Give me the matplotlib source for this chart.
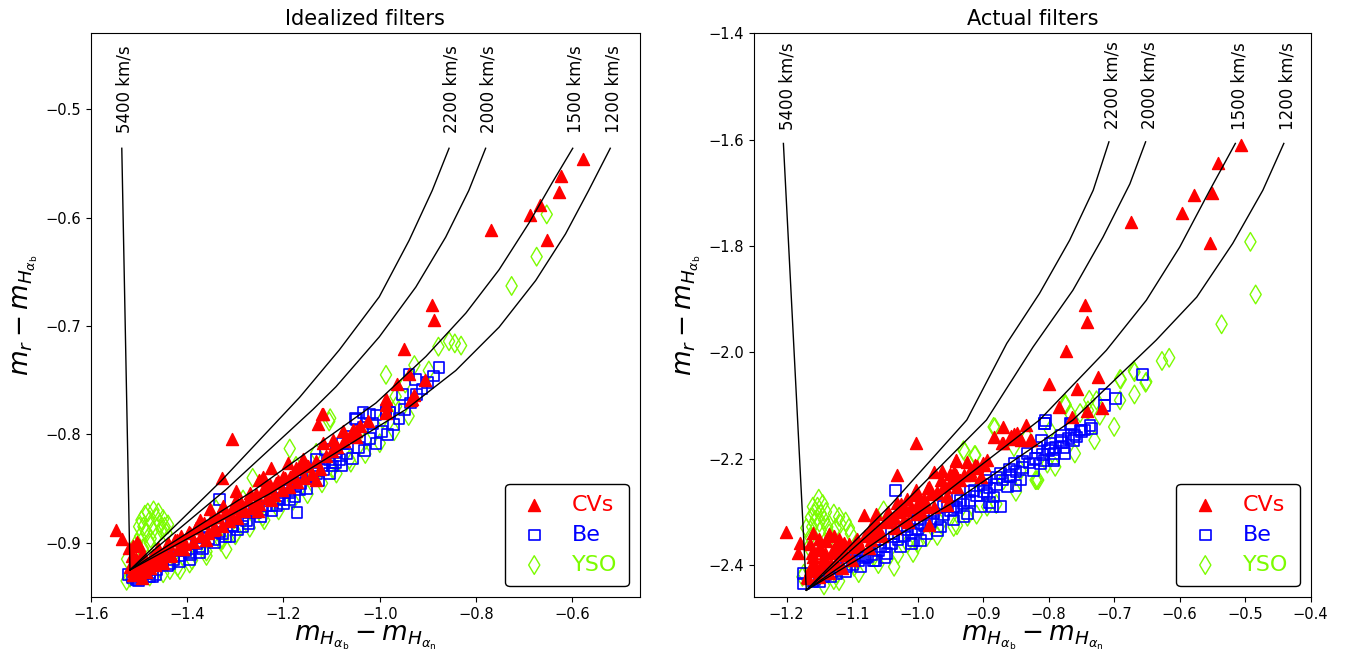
import numpy as np
import matplotlib.pyplot as plt

# ---------------- Idealized filters (left) ----------------
cv_ideal = [
    (-0.578, -0.546), (-0.623, -0.562), (-0.627, -0.576), (-0.667, -0.588), (-0.688, -0.598),
    (-0.768, -0.611), (-0.652, -0.621), (-0.891, -0.681), (-0.887, -0.694), (-0.950, -0.721),
    (-0.939, -0.744), (-0.965, -0.753), (-0.907, -0.750), (-0.986, -0.767), (-0.928, -0.764),
    (-0.933, -0.767), (-1.119, -0.781), (-0.986, -0.779),
    (-1.308, -0.804), (-1.118, -0.781), (-1.129, -0.790), (-1.328, -0.840), (-1.299, -0.852),
    (-1.548, -0.888), (-1.536, -0.896), (-1.512, -0.903), (-1.505, -0.899), (-1.132, -0.842),
    (-1.225, -0.831), (-1.190, -0.826), (-1.160, -0.823), (-1.251, -0.842), (-1.225, -0.860),
    (-1.253, -0.871), (-1.284, -0.869), (-1.312, -0.872), (-1.353, -0.869), (-1.346, -0.888),
    (-1.381, -0.886), (-1.409, -0.906), (-1.436, -0.912), (-1.450, -0.919), (-1.485, -0.919),
    (-1.498, -0.922), (-1.512, -0.926), (-1.505, -0.928), (-1.478, -0.923), (-1.215, -0.845),
    (-1.187, -0.839), (-1.174, -0.831), (-1.118, -0.808), (-1.077, -0.797), (-1.056, -0.796),
    (-1.049, -0.802), (-0.987, -0.780), (-0.987, -0.773), (-0.935, -0.768), (-1.298, -0.860),
    (-1.326, -0.866), (-1.374, -0.879), (-1.395, -0.891), (-1.422, -0.897), (-1.464, -0.909),
    (-1.270, -0.854), (-1.236, -0.849), (-1.201, -0.839), (-1.243, -0.839), (-1.346, -0.876),
    (-1.440, -0.900), (-1.491, -0.912), (-1.519, -0.922), (-1.257, -0.863), (-1.153, -0.828),
    (-1.098, -0.805), (-1.360, -0.897),
]
cv_ideal_band = [
    (-1.503, -0.918), (-1.497, -0.926), (-1.490, -0.913), (-1.486, -0.921), (-1.478, -0.916),
    (-1.472, -0.911), (-1.468, -0.920), (-1.461, -0.905), (-1.455, -0.914), (-1.447, -0.909),
    (-1.441, -0.901), (-1.433, -0.911), (-1.426, -0.897), (-1.419, -0.906), (-1.412, -0.894),
    (-1.404, -0.901), (-1.396, -0.890), (-1.389, -0.899), (-1.381, -0.886), (-1.372, -0.894),
    (-1.366, -0.882), (-1.357, -0.891), (-1.351, -0.879), (-1.343, -0.887), (-1.336, -0.876),
    (-1.328, -0.884), (-1.321, -0.872), (-1.313, -0.880), (-1.305, -0.868), (-1.297, -0.877),
    (-1.289, -0.863), (-1.282, -0.871), (-1.274, -0.860), (-1.266, -0.868), (-1.258, -0.855),
    (-1.250, -0.864), (-1.243, -0.851), (-1.235, -0.859), (-1.227, -0.847), (-1.219, -0.856),
    (-1.211, -0.843), (-1.203, -0.851), (-1.196, -0.840), (-1.188, -0.848), (-1.180, -0.836),
    (-1.172, -0.844), (-1.165, -0.832), (-1.157, -0.840), (-1.149, -0.829), (-1.141, -0.836),
    (-1.133, -0.824), (-1.125, -0.832), (-1.112, -0.820), (-1.100, -0.815), (-1.088, -0.812),
    (-1.075, -0.806), (-1.062, -0.801), (-1.050, -0.797), (-1.040, -0.792), (-1.025, -0.788),
    (-1.512, -0.930), (-1.508, -0.924), (-1.500, -0.929), (-1.494, -0.932), (-1.485, -0.927),
    (-1.506, -0.915), (-1.515, -0.912), (-1.495, -0.910), (-1.520, -0.905), (-1.500, -0.902),
]
be_ideal = [
    (-0.877, -0.738), (-0.939, -0.745), (-0.925, -0.749), (-0.953, -0.763), (-0.987, -0.778),
    (-0.980, -0.780), (-1.022, -0.781), (-1.050, -0.785),
    (-1.523, -0.929), (-1.505, -0.934), (-1.471, -0.931), (-1.333, -0.860), (-1.172, -0.872),
    (-0.987, -0.780), (-1.015, -0.790), (-1.049, -0.786), (-1.035, -0.780), (-0.980, -0.780),
    (-1.008, -0.782), (-1.084, -0.823), (-1.098, -0.829), (-1.118, -0.829), (-1.132, -0.823),
    (-1.112, -0.814), (-1.077, -0.808), (-1.063, -0.802), (-1.035, -0.793), (-1.153, -0.839),
    (-1.174, -0.848), (-1.187, -0.854), (-1.208, -0.860), (-1.229, -0.866), (-1.257, -0.872),
    (-1.277, -0.879), (-1.305, -0.885), (-1.326, -0.891), (-1.346, -0.897), (-1.374, -0.903),
    (-1.395, -0.909), (-1.415, -0.912), (-1.436, -0.919), (-1.464, -0.925), (-1.485, -0.928),
    (-1.498, -0.929), (-1.360, -0.885), (-1.312, -0.894), (-1.284, -0.885), (-1.243, -0.869),
    (-1.215, -0.866), (-1.187, -0.860), (-1.167, -0.851), (-1.132, -0.836), (-1.105, -0.823),
    (-1.091, -0.817), (-1.395, -0.915), (-1.429, -0.915), (-1.374, -0.909), (-1.478, -0.931),
]
be_ideal_band = [
    (-1.515, -0.932), (-1.502, -0.935), (-1.490, -0.928), (-1.478, -0.927), (-1.465, -0.929),
    (-1.452, -0.920), (-1.440, -0.921), (-1.428, -0.913), (-1.416, -0.917), (-1.404, -0.907),
    (-1.392, -0.911), (-1.380, -0.901), (-1.368, -0.905), (-1.356, -0.896), (-1.344, -0.900),
    (-1.332, -0.890), (-1.320, -0.894), (-1.308, -0.884), (-1.296, -0.888), (-1.284, -0.878),
    (-1.272, -0.882), (-1.260, -0.871), (-1.248, -0.876), (-1.236, -0.866), (-1.224, -0.870),
    (-1.212, -0.859), (-1.200, -0.864), (-1.188, -0.852), (-1.176, -0.857), (-1.164, -0.845),
    (-1.152, -0.850), (-1.140, -0.839), (-1.128, -0.843), (-1.116, -0.832), (-1.104, -0.836),
    (-1.092, -0.826), (-1.080, -0.829), (-1.068, -0.818), (-1.056, -0.822), (-1.044, -0.812),
    (-1.032, -0.815), (-1.020, -0.804), (-1.008, -0.808), (-0.996, -0.797), (-0.984, -0.800),
    (-0.972, -0.791), (-0.960, -0.785), (-0.948, -0.777), (-0.936, -0.771), (-0.924, -0.763),
    (-0.912, -0.758), (-0.900, -0.752), (-0.888, -0.746),
]
yso_ideal = [
    (-0.653, -0.597), (-0.674, -0.636), (-0.726, -0.663), (-0.878, -0.719), (-0.856, -0.714),
    (-0.844, -0.716), (-0.831, -0.718), (-0.987, -0.745), (-0.928, -0.736), (-0.898, -0.741),
    (-0.947, -0.753), (-0.967, -0.765), (-1.103, -0.785),
    (-1.488, -0.874), (-1.478, -0.879), (-1.491, -0.885), (-1.464, -0.877), (-1.457, -0.882),
    (-1.447, -0.885), (-1.471, -0.888), (-1.485, -0.891), (-1.498, -0.894), (-1.464, -0.894),
    (-1.443, -0.891), (-1.505, -0.900), (-1.478, -0.900), (-1.495, -0.879), (-1.453, -0.888),
    (-1.187, -0.813), (-1.105, -0.788), (-1.264, -0.840), (-1.098, -0.832), (-1.153, -0.832),
    (-1.132, -0.817), (-1.063, -0.823), (-1.243, -0.876), (-1.298, -0.891), (-1.326, -0.897),
    (-1.360, -0.912), (-1.395, -0.919), (-1.436, -0.925), (-1.478, -0.931), (-1.519, -0.932),
    (-1.526, -0.935), (-1.340, -0.869), (-1.174, -0.829), (-1.215, -0.854), (-1.029, -0.805),
    (-0.994, -0.786), (-0.966, -0.774), (-1.284, -0.860), (-1.319, -0.906), (-1.415, -0.925),
]
yso_ideal_band = [
    (-1.450, -0.928), (-1.420, -0.922), (-1.390, -0.916), (-1.360, -0.908), (-1.330, -0.899),
    (-1.300, -0.893), (-1.270, -0.886), (-1.240, -0.879), (-1.210, -0.870), (-1.180, -0.861),
    (-1.150, -0.855), (-1.120, -0.845), (-1.090, -0.836), (-1.060, -0.826), (-1.030, -0.818),
    (-1.000, -0.808), (-0.970, -0.797), (-0.940, -0.783),
    (-1.500, -0.885), (-1.482, -0.872), (-1.470, -0.870), (-1.460, -0.872), (-1.450, -0.878),
    (-1.440, -0.883), (-1.476, -0.896), (-1.492, -0.905), (-1.510, -0.908), (-1.525, -0.915),
]
curves_ideal = {
    '5400 km/s': [(-1.536, -0.536), (-1.519, -0.925)],
    '2200 km/s': [(-0.856, -0.536), (-0.891, -0.575), (-0.939, -0.621), (-1.001, -0.673),
                  (-1.084, -0.722), (-1.167, -0.766), (-1.330, -0.843), (-1.519, -0.925)],
    '2000 km/s': [(-0.780, -0.536), (-0.815, -0.575), (-0.863, -0.618), (-0.925, -0.664),
                  (-1.001, -0.710), (-1.091, -0.756), (-1.139, -0.777), (-1.320, -0.851),
                  (-1.519, -0.925)],
    '1500 km/s': [(-0.599, -0.536), (-0.642, -0.568), (-0.690, -0.605), (-0.752, -0.648),
                  (-0.821, -0.688), (-0.904, -0.728), (-1.008, -0.771), (-1.260, -0.851),
                  (-1.519, -0.925)],
    '1200 km/s': [(-0.521, -0.536), (-0.566, -0.575), (-0.614, -0.615), (-0.676, -0.658),
                  (-0.752, -0.701), (-0.842, -0.741), (-0.946, -0.777), (-1.230, -0.855),
                  (-1.519, -0.925)],
}

# ---------------- Actual filters (right) ----------------
cv_actual = [
    (-0.507, -1.609), (-0.542, -1.644), (-0.578, -1.703), (-0.550, -1.700), (-0.597, -1.738),
    (-0.675, -1.755), (-0.553, -1.794), (-0.745, -1.911), (-0.741, -1.943), (-0.773, -1.998),
    (-0.799, -2.060), (-0.757, -2.068), (-0.725, -2.046), (-0.784, -2.102), (-0.741, -2.110),
    (-0.719, -2.104), (-0.765, -2.121),
    (-1.002, -2.170), (-1.031, -2.230), (-1.201, -2.338), (-1.180, -2.358), (-1.183, -2.377),
    (-0.884, -2.159), (-0.870, -2.141), (-0.853, -2.154), (-0.871, -2.170), (-0.835, -2.137),
    (-0.828, -2.165), (-0.843, -2.165), (-0.858, -2.162), (-0.942, -2.203), (-0.924, -2.206),
    (-0.912, -2.212), (-0.899, -2.212), (-0.963, -2.222), (-0.975, -2.225), (-0.950, -2.228),
    (-0.935, -2.240), (-0.919, -2.231), (-0.958, -2.253), (-0.983, -2.253), (-1.003, -2.259),
    (-1.016, -2.275), (-0.996, -2.278), (-1.031, -2.284), (-1.019, -2.294), (-1.001, -2.303),
    (-0.955, -2.287), (-0.983, -2.325), (-1.064, -2.303), (-1.082, -2.306), (-1.072, -2.328),
    (-1.057, -2.341), (-1.036, -2.309), (-1.092, -2.350), (-1.113, -2.359), (-1.136, -2.341),
    (-1.151, -2.350), (-1.125, -2.366), (-1.148, -2.372), (-1.161, -2.378), (-1.143, -2.384),
    (-1.128, -2.378), (-1.158, -2.397), (-1.148, -2.403), (-1.133, -2.397), (-1.113, -2.378),
    (-1.097, -2.366), (-1.164, -2.409), (-1.151, -2.422), (-1.169, -2.422), (-1.072, -2.353),
    (-1.047, -2.315), (-1.021, -2.315), (-0.986, -2.290), (-0.970, -2.265), (-0.940, -2.253),
    (-0.894, -2.203), (-0.904, -2.234), (-0.870, -2.170), (-0.857, -2.158), (-0.849, -2.151),
    (-0.827, -2.164), (-0.941, -2.204), (-0.910, -2.214), (-0.941, -2.231),
]
cv_actual_band = [
    (-1.165, -2.360), (-1.160, -2.385), (-1.155, -2.410), (-1.150, -2.368), (-1.145, -2.393),
    (-1.140, -2.355), (-1.135, -2.415), (-1.130, -2.372), (-1.125, -2.395), (-1.120, -2.350),
    (-1.115, -2.405), (-1.110, -2.380), (-1.105, -2.360), (-1.100, -2.390), (-1.168, -2.425),
    (-1.162, -2.400), (-1.142, -2.378), (-1.128, -2.345), (-1.118, -2.368), (-1.152, -2.420),
    (-1.160, -2.340),
    (-1.090, -2.360), (-1.080, -2.345), (-1.070, -2.340), (-1.060, -2.330), (-1.050, -2.318),
    (-1.040, -2.312), (-1.030, -2.300), (-1.020, -2.296), (-1.010, -2.290), (-1.000, -2.284),
    (-0.990, -2.276), (-0.980, -2.266), (-0.970, -2.262), (-0.960, -2.252), (-0.950, -2.246),
    (-0.940, -2.236), (-0.930, -2.230), (-0.920, -2.222), (-0.910, -2.218), (-0.900, -2.208),
    (-1.065, -2.315), (-1.045, -2.300), (-1.025, -2.285), (-1.005, -2.268), (-0.985, -2.255),
    (-0.965, -2.240), (-0.945, -2.225), (-1.075, -2.368), (-1.055, -2.345), (-1.035, -2.330),
    (-1.015, -2.318), (-0.995, -2.300), (-0.975, -2.290), (-0.955, -2.270),
]
be_actual = [
    (-0.657, -2.042), (-0.715, -2.079), (-0.698, -2.086), (-0.715, -2.100), (-0.805, -2.128),
    (-1.174, -2.416), (-1.174, -2.435), (-1.158, -2.428), (-1.133, -2.422), (-1.108, -2.403),
    (-1.087, -2.403), (-1.067, -2.391), (-1.047, -2.378), (-1.026, -2.366), (-1.006, -2.353),
    (-0.986, -2.341), (-0.965, -2.328), (-0.945, -2.315), (-0.924, -2.303), (-0.904, -2.290),
    (-0.886, -2.290), (-0.884, -2.272), (-0.863, -2.253), (-0.843, -2.240), (-0.823, -2.222),
    (-0.807, -2.203), (-0.792, -2.190), (-0.777, -2.178), (-0.762, -2.165), (-0.752, -2.146),
    (-0.806, -2.134), (-0.767, -2.134), (-1.034, -2.259), (-1.097, -2.391), (-1.077, -2.384),
    (-1.057, -2.366), (-1.036, -2.347), (-1.016, -2.334), (-0.996, -2.322), (-0.975, -2.303),
    (-0.955, -2.290), (-0.935, -2.278), (-0.914, -2.259), (-0.894, -2.240), (-0.874, -2.228),
    (-0.853, -2.209), (-0.833, -2.190), (-0.818, -2.178), (-0.797, -2.171), (-0.782, -2.165),
    (-1.064, -2.391), (-1.123, -2.416), (-1.143, -2.422), (-0.996, -2.353), (-0.945, -2.290),
    (-0.894, -2.265), (-0.858, -2.234), (-0.813, -2.209), (-0.792, -2.203), (-0.874, -2.290),
    (-0.806, -2.133), (-0.765, -2.135), (-0.737, -2.137), (-0.735, -2.143), (-0.745, -2.146),
    (-0.758, -2.159), (-0.781, -2.156), (-0.775, -2.190), (-0.793, -2.200), (-0.811, -2.165),
    (-0.798, -2.181),
]
be_actual_band = [
    (-1.160, -2.430), (-1.150, -2.430), (-1.140, -2.418), (-1.130, -2.412), (-1.120, -2.406),
    (-1.110, -2.412), (-1.100, -2.398), (-1.090, -2.392), (-1.080, -2.386), (-1.070, -2.380),
    (-1.060, -2.372), (-1.050, -2.365), (-1.040, -2.360), (-1.030, -2.352), (-1.020, -2.345),
    (-1.010, -2.338), (-1.000, -2.332), (-0.990, -2.326), (-0.980, -2.318), (-0.970, -2.312),
    (-0.960, -2.305), (-0.950, -2.298), (-0.940, -2.292), (-0.930, -2.285), (-0.920, -2.278),
    (-0.910, -2.270), (-0.900, -2.262), (-0.890, -2.255), (-0.880, -2.248), (-0.870, -2.240),
    (-0.860, -2.232), (-0.850, -2.224), (-0.840, -2.216), (-0.830, -2.208), (-0.820, -2.200),
    (-0.810, -2.192), (-0.800, -2.185), (-0.790, -2.178), (-0.780, -2.170), (-0.770, -2.162),
    (-0.760, -2.155), (-0.750, -2.148), (-1.100, -2.375), (-1.080, -2.365), (-1.060, -2.352),
    (-1.040, -2.340), (-1.020, -2.328), (-1.000, -2.315), (-0.980, -2.302), (-0.960, -2.290),
    (-0.940, -2.275), (-0.920, -2.262), (-0.900, -2.248), (-0.880, -2.235), (-0.860, -2.220),
    (-0.840, -2.205), (-1.050, -2.385), (-1.010, -2.360), (-0.970, -2.335), (-0.930, -2.308),
    (-0.890, -2.282), (-0.850, -2.250),
]
yso_actual = [
    (-0.492, -1.792), (-0.484, -1.891), (-0.536, -1.947), (-0.627, -2.016), (-0.616, -2.010),
    (-0.670, -2.034), (-0.691, -2.050), (-0.652, -2.057), (-0.669, -2.079), (-0.691, -2.090),
    (-0.738, -2.089), (-0.775, -2.098), (-0.752, -2.114), (-0.722, -2.119),
    (-1.151, -2.275), (-1.153, -2.290), (-1.158, -2.303), (-1.148, -2.303), (-1.156, -2.315),
    (-1.143, -2.315), (-1.161, -2.328), (-1.148, -2.334), (-1.138, -2.328), (-1.128, -2.303),
    (-1.120, -2.309), (-1.118, -2.322), (-1.133, -2.347), (-1.164, -2.347), (-1.166, -2.366),
    (-1.174, -2.416), (-1.176, -2.422), (-1.143, -2.438), (-1.128, -2.428), (-1.102, -2.341),
    (-1.052, -2.297), (-1.036, -2.403), (-1.007, -2.377), (-0.930, -2.184), (-0.912, -2.193),
    (-0.884, -2.140), (-0.818, -2.240), (-0.802, -2.209), (-0.774, -2.099), (-0.767, -2.115),
    (-0.965, -2.322), (-0.945, -2.328), (-0.924, -2.309), (-0.894, -2.290), (-0.869, -2.240),
    (-0.843, -2.222), (-0.986, -2.347), (-1.016, -2.359), (-1.067, -2.384), (-1.097, -2.403),
    (-1.123, -2.416), (-0.904, -2.247), (-0.853, -2.178), (-0.833, -2.159),
    (-0.669, -2.037), (-0.651, -2.055), (-0.690, -2.051), (-0.727, -2.090), (-0.740, -2.109),
    (-0.775, -2.096), (-0.882, -2.141), (-0.928, -2.187), (-0.913, -2.193), (-0.816, -2.240),
    (-0.798, -2.146),
]
yso_actual_band = [
    (-1.120, -2.430), (-1.090, -2.415), (-1.060, -2.398), (-1.030, -2.380), (-1.000, -2.360),
    (-0.970, -2.345), (-0.940, -2.325), (-0.910, -2.305), (-0.880, -2.285), (-0.850, -2.262),
    (-0.820, -2.240), (-0.790, -2.215), (-0.760, -2.190), (-0.730, -2.165), (-0.700, -2.140),
    (-1.160, -2.290), (-1.145, -2.285), (-1.140, -2.300), (-1.150, -2.320), (-1.135, -2.340),
    (-1.125, -2.330), (-1.110, -2.318), (-1.105, -2.330), (-1.163, -2.310), (-1.170, -2.330),
]
curves_actual = {
    '5400 km/s': [(-1.205, -1.607), (-1.170, -2.447)],
    '2200 km/s': [(-0.708, -1.604), (-0.732, -1.695), (-0.768, -1.789), (-0.814, -1.889),
                  (-0.864, -1.983), (-0.925, -2.127), (-1.040, -2.285), (-1.170, -2.447)],
    '2000 km/s': [(-0.652, -1.604), (-0.676, -1.683), (-0.717, -1.783), (-0.763, -1.883),
                  (-0.824, -1.990), (-0.895, -2.127), (-1.020, -2.282), (-1.170, -2.447)],
    '1500 km/s': [(-0.515, -1.607), (-0.554, -1.695), (-0.600, -1.802), (-0.651, -1.902),
                  (-0.712, -1.996), (-0.814, -2.127), (-0.980, -2.285), (-1.170, -2.447)],
    '1200 km/s': [(-0.441, -1.607), (-0.473, -1.695), (-0.519, -1.795), (-0.574, -1.896),
                  (-0.636, -1.977), (-0.763, -2.127), (-0.950, -2.285), (-1.170, -2.447)],
}

fig = plt.figure(figsize=(13.48, 6.54), dpi=100)
ax1 = fig.add_axes([0.0675, 0.087, 0.407, 0.862])
ax2 = fig.add_axes([0.5593, 0.087, 0.413, 0.862])

xlab = r'$m_{H_{\alpha_{\rm b}}} - m_{H_{\alpha_{\rm n}}}$'
ylab = r'$m_r - m_{H_{\alpha_{\rm b}}}$'


def draw(ax, cv, be, yso, curves, title, xlim, ylim, label_off):
    yso = np.array(yso)
    be = np.array(be)
    cv = np.array(cv)
    h_yso = ax.scatter(yso[:, 0], yso[:, 1], marker='d', s=90, facecolors='none',
                       edgecolors='#7CFC00', linewidths=1.0, zorder=2)
    h_be = ax.scatter(be[:, 0], be[:, 1], marker='s', s=60, facecolors='none',
                      edgecolors='blue', linewidths=1.2, zorder=3)
    h_cv = ax.scatter(cv[:, 0], cv[:, 1], marker='^', s=75, color='red', zorder=4)
    for name, pts in curves.items():
        pts = np.array(pts)
        ax.plot(pts[:, 0], pts[:, 1], color='black', lw=1.0, zorder=5)
        ax.text(pts[0, 0] + 0.006, pts[0, 1] + label_off, name, rotation=90,
                ha='center', va='bottom', fontsize=12)
    ax.set_xlim(*xlim)
    ax.set_ylim(*ylim)
    ax.set_title(title, fontsize=15)
    ax.set_xlabel(xlab, fontsize=19, labelpad=1)
    ax.set_ylabel(ylab, fontsize=19)
    ax.tick_params(labelsize=10.5)
    leg = ax.legend([h_cv, h_be, h_yso], ['CVs', 'Be', 'YSO'], loc='lower right',
                    fontsize=16, handlelength=1.6, handletextpad=0.9, borderpad=0.5,
                    labelspacing=0.45, framealpha=1)
    leg.get_frame().set_edgecolor('black')
    for t, c in zip(leg.get_texts(), ['red', 'blue', '#7CFC00']):
        t.set_color(c)


draw(ax1, cv_ideal + cv_ideal_band, be_ideal + be_ideal_band, yso_ideal + yso_ideal_band,
     curves_ideal, 'Idealized filters', (-1.6, -0.46), (-0.95, -0.43), 0.014)
draw(ax2, cv_actual + cv_actual_band, be_actual + be_actual_band, yso_actual + yso_actual_band,
     curves_actual, 'Actual filters', (-1.25, -0.4), (-2.46, -1.4), 0.025)
ax1.set_xticks([-1.6, -1.4, -1.2, -1.0, -0.8, -0.6])
ax1.set_yticks([-0.9, -0.8, -0.7, -0.6, -0.5])

fig.savefig('out.png', dpi=100)
